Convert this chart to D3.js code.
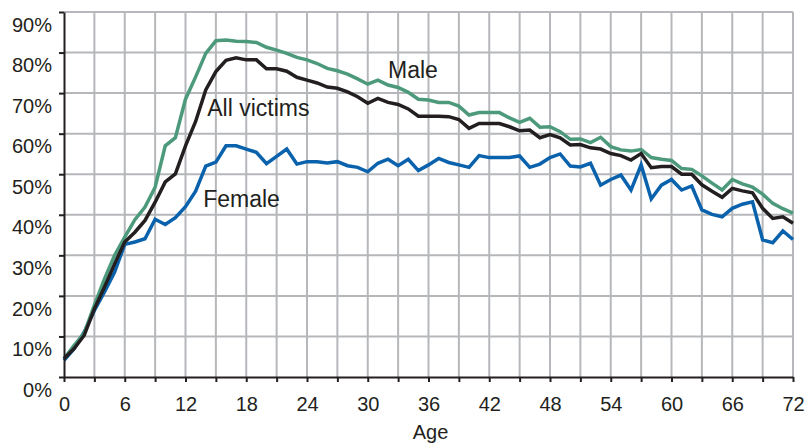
<!DOCTYPE html>
<html>
<head>
<meta charset="utf-8">
<script src="https://cdn.jsdelivr.net/npm/d3@7"></script>
<style>
    body { margin: 0; background: #fff; }
    svg { font-family: "Liberation Sans", Arial, Helvetica, sans-serif; }
    .grid line { stroke: #b5b7ba; stroke-width: 2; }
    .axis path, .axis line { stroke: #231f20; stroke-width: 2; }
    .axis text { fill: #231f20; font-size: 20px; }
    .series { fill: none; stroke-width: 3.5; stroke-linejoin: miter; }
    .annot { fill: #231f20; font-size: 23px; }
</style>
</head>
<body>
<div id="chart"></div>
<script>

// ages 0..72
var ages = d3.range(0, 73);

var male = [4.5, 7.8, 10.8, 17.7, 24.2, 30, 34.5, 38.8, 41.9, 46.8,
    57, 59, 68.5, 74, 79.8, 82.9, 83.1, 82.8, 82.7, 82.5,
    81.3, 80.6, 79.8, 78.8, 78.2, 77.3, 76.1, 75.5, 74.7, 73.5,
    72.2, 73.2, 72, 71.4, 70.2, 68.5, 68.3, 67.7, 67.7, 66.8,
    64.6, 65.2, 65.2, 65.2, 63.9, 62.8, 63.8, 61.6, 61.7, 60.5,
    58.6, 58.7, 57.8, 59.1, 56.8, 56, 55.7, 56.1, 54.1, 53.7,
    53.4, 51.4, 51.2, 49.6, 47.8, 46.1, 48.7, 47.6, 46.8, 45.1,
    42.8, 41.5, 40.4];

var allVictims = [4.5, 7, 10.3, 16.8, 22.2, 27.9, 33.3, 35.7, 38.6, 43.1,
    48.1, 50.1, 57, 63, 70.8, 75.3, 78.1, 78.7, 78.2, 78.2,
    76, 76, 75.4, 73.9, 73.2, 72.5, 71.5, 71.2, 70.3, 69.1,
    67.5, 68.7, 67.7, 67.2, 66.1, 64.3, 64.3, 64.3, 64.2, 63.5,
    61.3, 62.5, 62.5, 62.5, 61.7, 60.7, 60.9, 59, 59.8, 59,
    57.2, 57.3, 56.5, 56.2, 55.1, 54.6, 53.5, 55.1, 51.6, 51.9,
    51.9, 50, 50, 47.4, 45.8, 44.3, 46.5, 45.9, 45.4, 41.6,
    39.1, 39.5, 37.9];

var female = [4.1, 7, 11.1, 16.4, 21, 25.9, 32.7, 33.3, 34.1, 38.9,
    37.6, 39.3, 42, 45.8, 52, 53, 57, 57, 56.2, 55.4,
    52.6, 54.4, 56.2, 52.5, 53.1, 53.1, 52.8, 53.1, 52.1, 51.7,
    50.6, 52.7, 53.7, 52.1, 53.7, 50.9, 52.3, 53.9, 52.9, 52.3,
    51.7, 54.6, 54.1, 54.1, 54.1, 54.5, 51.7, 52.5, 54.1, 55,
    52, 51.8, 52.7, 47.3, 48.7, 49.8, 46.1, 52.3, 43.9, 47.3,
    48.7, 46.1, 47.1, 41.2, 40.1, 39.5, 41.6, 42.6, 43.2, 33.8,
    33.1, 36, 33.9];

var xTicks = d3.range(0, 73, 6);
var xGrid = d3.range(0, 73, 3);
var yTicks = d3.range(0, 91, 10);

// drawing order: female, male, all victims on top
var series = [
    {name: "Female", values: female, color: "#0a62ad"},
    {name: "Male", values: male, color: "#4c9a7b"},
    {name: "All victims", values: allVictims, color: "#231f20"}
];

// label anchors in data units (age, percent)
var labels = [
    {text: "Male", age: 32, pct: 73.7},
    {text: "All victims", age: 14.15, pct: 64.4},
    {text: "Female", age: 13.75, pct: 41.8}
];

var margin = {top: 12, right: 16, bottom: 68, left: 64};
var width = 809 - margin.left - margin.right,
    height = 445 - margin.top - margin.bottom;

var svg = d3.select("#chart").append("svg")
    .attr("width", 809)
    .attr("height", 445)
    .append("g")
    .attr("transform", "translate(" + margin.left + "," + margin.top + ")");

var x = d3.scaleLinear().domain([0, 72]).range([0, width]);
var y = d3.scaleLinear().domain([0, 90]).range([height, 0]);

// grid
var grid = svg.append("g").attr("class", "grid");
grid.selectAll(".v")
    .data(xGrid.filter(function(d) { return d > 0; }))
    .enter().append("line")
    .attr("x1", function(d) { return x(d); })
    .attr("x2", function(d) { return x(d); })
    .attr("y1", 0)
    .attr("y2", height);
grid.selectAll(".h")
    .data(yTicks.filter(function(d) { return d > 0; }))
    .enter().append("line")
    .attr("x1", 0)
    .attr("x2", width)
    .attr("y1", function(d) { return y(d); })
    .attr("y2", function(d) { return y(d); });

// lines
var line = d3.line()
    .x(function(d, i) { return x(ages[i]); })
    .y(function(d) { return y(d); });

svg.selectAll(".series")
    .data(series)
    .enter().append("path")
    .attr("class", "series")
    .attr("stroke", function(d) { return d.color; })
    .attr("d", function(d) { return line(d.values); });

// axes
var xAxis = d3.axisBottom(x)
    .tickValues(xGrid)
    .tickSize(5)
    .tickSizeOuter(0)
    .tickFormat(function(d) { return d % 6 === 0 ? d : ""; });

var gx = svg.append("g")
    .attr("class", "x-axis axis")
    .attr("transform", "translate(0," + height + ")")
    .call(xAxis);
gx.selectAll("text").attr("y", 20).attr("dy", "0.71em");

var yAxis = d3.axisLeft(y)
    .tickValues(yTicks)
    .tickSize(5)
    .tickSizeOuter(0)
    .tickFormat(function(d) { return d + "%"; });

var gy = svg.append("g")
    .attr("class", "y-axis axis")
    .call(yAxis);
gy.selectAll("text").attr("x", -12).attr("dy", "0.96em");

svg.append("text")
    .attr("class", "axis-label")
    .attr("x", width / 2 + 2)
    .attr("y", height + 62)
    .style("text-anchor", "middle")
    .style("font-size", "20px")
    .attr("fill", "#231f20")
    .text("Age");

// series labels
svg.selectAll(".annot")
    .data(labels)
    .enter().append("text")
    .attr("class", "annot")
    .attr("x", function(d) { return x(d.age); })
    .attr("y", function(d) { return y(d.pct); })
    .text(function(d) { return d.text; });

</script>
</body>
</html>
